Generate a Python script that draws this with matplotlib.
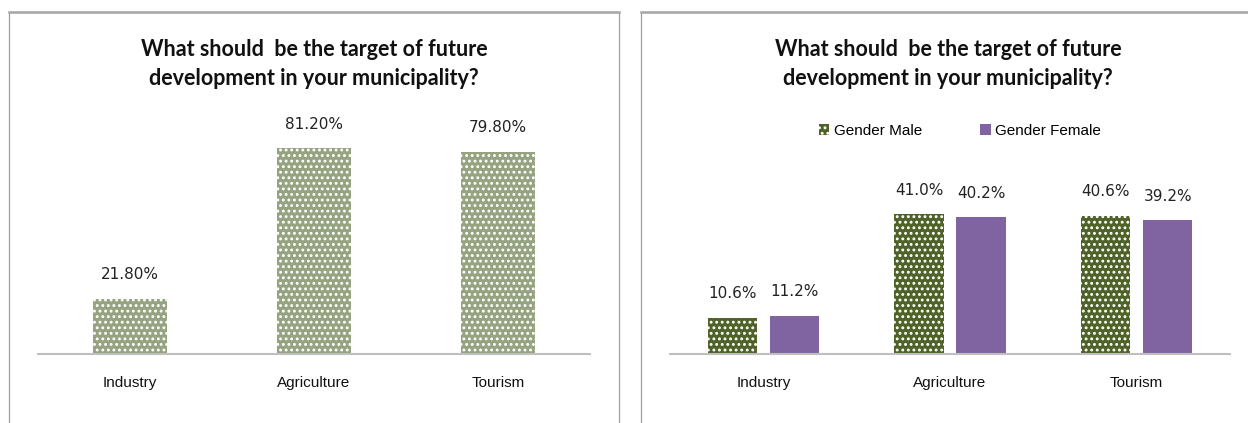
import numpy as np
import matplotlib.pyplot as plt
from matplotlib.patches import Rectangle, Patch

categories = ["Industry", "Agriculture", "Tourism"]
total_share = [21.8, 81.2, 79.8]
male_share = [10.6, 41.0, 40.6]
female_share = [11.2, 40.2, 39.2]
title = "What should  be the target of future\ndevelopment in your municipality?"

W, H = 1248, 423
plt.rcParams['hatch.linewidth'] = 1.3

fig = plt.figure(figsize=(W / 100, H / 100), dpi=100)


def px_axes(x0, y_top, x1, y_bottom):
    # pixel box (from top-left) -> figure axes
    return fig.add_axes([x0 / W, 1 - y_bottom / H, (x1 - x0) / W, (y_bottom - y_top) / H])


def panel_frame(x0, x1):
    fig.patches.append(Rectangle((x0 / W, -0.05), (x1 - x0) / W, 1 - 12 / H + 0.05,
                                 transform=fig.transFigure, fill=False,
                                 edgecolor='#a0a0a0', linewidth=0.9))
    fig.lines.append(plt.Line2D([x0 / W, x1 / W], [1 - 12 / H, 1 - 12 / H],
                                transform=fig.transFigure, color='#a6a6a6', linewidth=1.8))


def style_axes(ax):
    for s in ['top', 'right', 'left']:
        ax.spines[s].set_visible(False)
    ax.spines['bottom'].set_color('#bfbfbf')
    ax.spines['bottom'].set_linewidth(1.5)
    ax.set_yticks([])
    ax.set_xticks(range(len(categories)))
    ax.set_xticklabels(categories, fontname='Liberation Sans', fontsize=11, color='#111111')
    ax.tick_params(axis='x', length=0, pad=16)
    ax.set_xlim(-0.5, 2.5)


def add_title(xc):
    fig.text(xc / W, 1 - 64 / H, title, ha='center', va='center', fontsize=15.5,
             fontname='Lato', fontweight='bold', linespacing=1.45, color='#111111')


panel_frame(9, 619)
panel_frame(641, 1260)

# left panel: total
ax1 = px_axes(38, 100, 590, 354)
x = np.arange(len(categories))
ax1.bar(x, total_share, width=0.4, color='#95a381', edgecolor='white', hatch='...', linewidth=0)
for xi, v in zip(x, total_share):
    ax1.text(xi, v + 6.5, f"{v:.2f}%", ha='center', va='bottom', fontsize=11, color='#222222')
ax1.set_ylim(0, 254 / 2.537)
style_axes(ax1)
add_title(314)

# right panel: by gender
ax2 = px_axes(670, 150, 1230, 354)
off = 0.166
bw = 0.265
ax2.bar(x - off, male_share, width=bw, color='#4f6228', edgecolor='white', hatch='...', linewidth=0)
ax2.bar(x + off, female_share, width=bw, color='#8064a2', linewidth=0)
for xi, v in zip(x, male_share):
    ax2.text(xi - off, v + 4.8, f"{v:.1f}%", ha='center', va='bottom', fontsize=11, color='#222222')
for xi, v in zip(x, female_share):
    ax2.text(xi + off, v + 4.8, f"{v:.1f}%", ha='center', va='bottom', fontsize=11, color='#222222')
ax2.set_ylim(0, 204 / 3.41)
style_axes(ax2)
add_title(948)

handles = [Patch(facecolor='#4f6228', edgecolor='white', hatch='...', linewidth=0),
           Patch(facecolor='#8064a2', linewidth=0)]
fig.legend(handles, ["Gender Male", "Gender Female"], loc='center',
           bbox_to_anchor=(960 / W, 1 - 131 / H), ncol=2, frameon=False,
           prop={'family': 'Liberation Sans', 'size': 11}, handlelength=0.7,
           handleheight=0.7, handletextpad=0.3, columnspacing=3.8)

fig.savefig("out.png", dpi=100, facecolor='white')
